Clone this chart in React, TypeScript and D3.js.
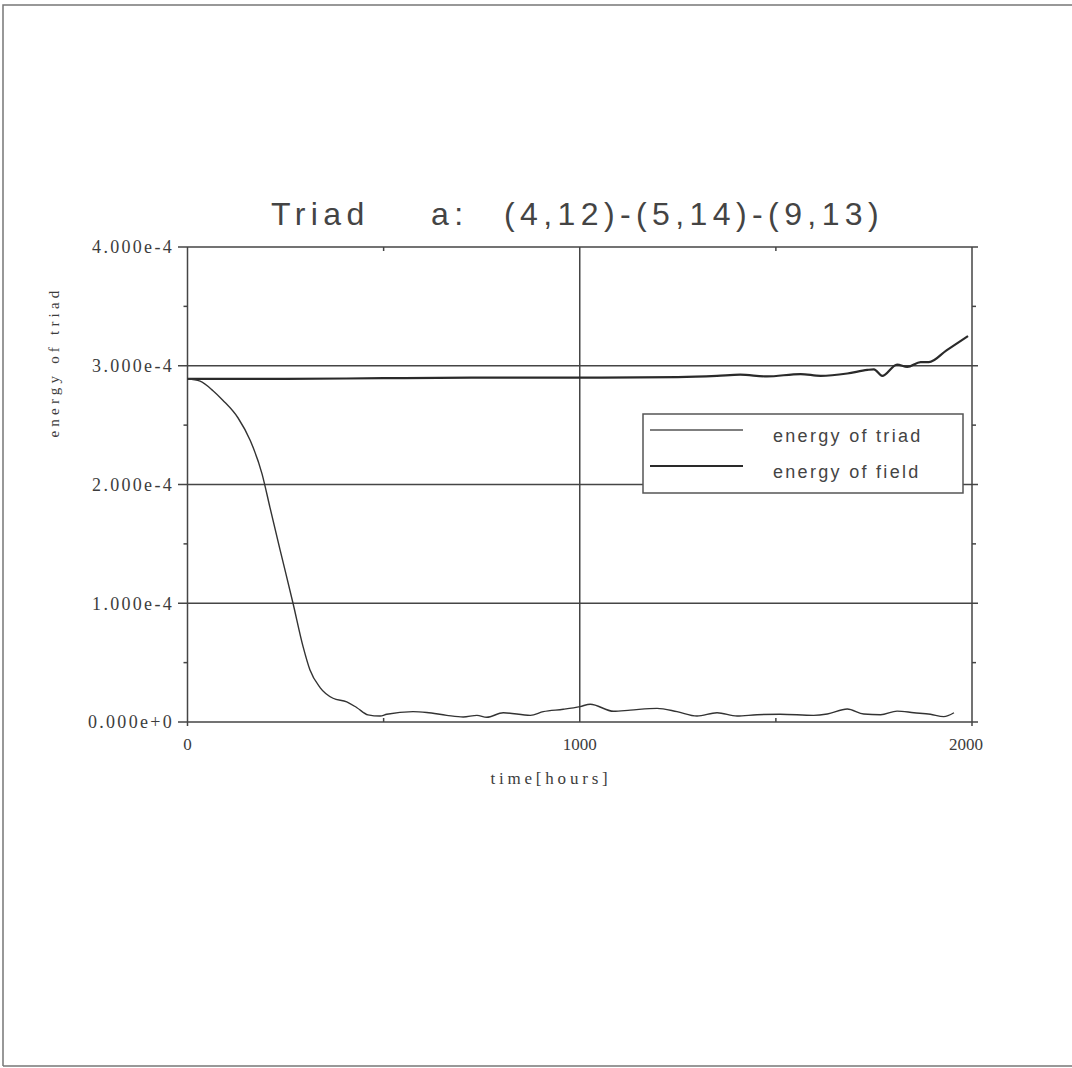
import React, { useEffect, useRef } from "react";
import * as d3 from "d3";

// energy of triad (time in hours, energy)
const triadTime = [0, 32, 65, 90, 129, 160, 190, 210, 236, 269, 295, 312, 338, 371, 406, 432, 460, 491, 508, 575, 610, 661, 703, 738, 763, 805, 874, 907, 958, 1001, 1027, 1086, 1129, 1197, 1248, 1299, 1350, 1401, 1452, 1511, 1596, 1631, 1682, 1724, 1767, 1809, 1852, 1894, 1928, 1954];
const triadEnergy = [2.89e-4, 2.87e-4, 2.79e-4, 2.71e-4, 2.56e-4, 2.37e-4, 2.09e-4, 1.81e-4, 1.45e-4, 1.0e-4, 0.63e-4, 0.44e-4, 0.29e-4, 0.2e-4, 0.17e-4, 0.12e-4, 0.06e-4, 0.05e-4, 0.065e-4, 0.087e-4, 0.08e-4, 0.056e-4, 0.042e-4, 0.056e-4, 0.04e-4, 0.078e-4, 0.056e-4, 0.087e-4, 0.107e-4, 0.13e-4, 0.15e-4, 0.09e-4, 0.1e-4, 0.115e-4, 0.087e-4, 0.05e-4, 0.078e-4, 0.05e-4, 0.061e-4, 0.065e-4, 0.056e-4, 0.067e-4, 0.109e-4, 0.067e-4, 0.061e-4, 0.092e-4, 0.078e-4, 0.065e-4, 0.045e-4, 0.078e-4];

// energy of field
const fieldTime = [0, 250, 500, 750, 1000, 1250, 1350, 1409, 1477, 1563, 1614, 1682, 1733, 1750, 1771, 1809, 1835, 1869, 1890, 1935, 1990];
const fieldEnergy = [2.89e-4, 2.89e-4, 2.895e-4, 2.9e-4, 2.9e-4, 2.905e-4, 2.915e-4, 2.925e-4, 2.91e-4, 2.93e-4, 2.915e-4, 2.935e-4, 2.965e-4, 2.97e-4, 2.915e-4, 3.01e-4, 2.99e-4, 3.03e-4, 3.03e-4, 3.13e-4, 3.25e-4];

const xTicks = [0, 1000, 2000];
const xMinor = [500, 1500];
const yTicks = [0, 1e-4, 2e-4, 3e-4, 4e-4];
const yMinor = [0.5e-4, 1.5e-4, 2.5e-4, 3.5e-4];
const legendLabels = ["energy of triad", "energy of field"];

const title = ["Triad", "a:", "(4,12)-(5,14)-(9,13)"];

export default function App() {
  const ref = useRef<SVGSVGElement>(null);

  useEffect(() => {
    const svg = d3.select(ref.current);
    svg.selectAll("*").remove();

    const ink = "#3c3c3c";
    const serif = "'Liberation Serif', 'DejaVu Serif', serif";
    const sans = "'Liberation Sans', Arial, sans-serif";

    const x = d3.scaleLinear().domain([0, 2000]).range([187.5, 972]);
    const y = d3.scaleLinear().domain([0, 4e-4]).range([722, 247]);

    // page frame
    svg.append("path")
      .attr("d", "M3,1066 L3,5 L1072,5 M3,1066 L1072,1066")
      .attr("fill", "none").attr("stroke", "#777").attr("stroke-width", 1.5);

    // title
    const titleX = [271, 431, 504];
    svg.append("g").selectAll("text").data(title).join("text")
      .attr("x", (_, i) => titleX[i]).attr("y", 225)
      .attr("font-family", sans).attr("font-size", 32)
      .attr("letter-spacing", 5.4).attr("fill", "#444")
      .text((d) => d);

    const grid = svg.append("g").attr("stroke", "#454545").attr("stroke-width", 1.5);

    // horizontal lines: axis ticks + grid
    grid.selectAll("line.h").data(yTicks).join("line")
      .attr("x1", 178).attr("x2", 978)
      .attr("y1", (d) => y(d)).attr("y2", (d) => y(d));

    // vertical frame / grid lines
    grid.selectAll("line.v").data(xTicks).join("line")
      .attr("x1", (d) => x(d)).attr("x2", (d) => x(d))
      .attr("y1", y(4e-4)).attr("y2", (d) => (d === 1000 ? y(0) : y(0) + 4));

    // minor ticks
    grid.selectAll("line.ml").data(yMinor).join("line")
      .attr("x1", x(0) - 4).attr("x2", x(0))
      .attr("y1", (d) => y(d)).attr("y2", (d) => y(d));
    grid.selectAll("line.mr").data(yMinor).join("line")
      .attr("x1", x(2000)).attr("x2", x(2000) + 4)
      .attr("y1", (d) => y(d)).attr("y2", (d) => y(d));
    grid.selectAll("line.mt").data(xMinor).join("line")
      .attr("x1", (d) => x(d)).attr("x2", (d) => x(d))
      .attr("y1", y(4e-4)).attr("y2", y(4e-4) + 4);
    grid.selectAll("line.mb").data(xMinor).join("line")
      .attr("x1", (d) => x(d)).attr("x2", (d) => x(d))
      .attr("y1", y(0) - 4).attr("y2", y(0));

    // tick labels
    const fmt = d3.format(".3e");
    svg.append("g").selectAll("text").data(yTicks).join("text")
      .attr("x", 174).attr("y", (d) => y(d)).attr("dy", "0.35em")
      .attr("text-anchor", "end").attr("font-family", serif)
      .attr("font-size", 18).attr("letter-spacing", 2.3).attr("fill", ink)
      .text((d) => fmt(d));

    svg.append("g").selectAll("text").data(xTicks).join("text")
      .attr("x", (d) => x(d) - (d === 2000 ? 6 : 0)).attr("y", 750)
      .attr("text-anchor", "middle").attr("font-family", serif)
      .attr("font-size", 17).attr("fill", ink)
      .text((d) => d);

    // axis titles
    svg.append("text")
      .attr("x", 551).attr("y", 784).attr("text-anchor", "middle")
      .attr("font-family", serif).attr("font-size", 17)
      .attr("letter-spacing", 3.8).attr("fill", ink)
      .text("time[hours]");

    svg.append("text")
      .attr("transform", "translate(59,362) rotate(-90)")
      .attr("text-anchor", "middle").attr("font-family", serif)
      .attr("font-size", 15).attr("letter-spacing", 4.2).attr("fill", ink)
      .text("energy of triad");

    // series
    const line = d3.line<[number, number]>()
      .x((d) => x(d[0]))
      .y((d) => y(d[1]))
      .curve(d3.curveMonotoneX);

    const field = fieldTime.map((t, i) => [t, fieldEnergy[i]] as [number, number]);
    const triad = triadTime.map((t, i) => [t, triadEnergy[i]] as [number, number]);

    svg.append("path").datum(field)
      .attr("fill", "none").attr("stroke", "#2a2a2a").attr("stroke-width", 2.2)
      .attr("d", line);
    svg.append("path").datum(triad)
      .attr("fill", "none").attr("stroke", "#333").attr("stroke-width", 1.4)
      .attr("d", line);

    // legend
    const lg = svg.append("g");
    lg.append("rect")
      .attr("x", 643).attr("y", 414).attr("width", 320).attr("height", 79)
      .attr("fill", "#fff").attr("stroke", "#555").attr("stroke-width", 1.5);
    const rowY = [430, 466];
    lg.selectAll("line").data(legendLabels).join("line")
      .attr("x1", 650).attr("x2", 743)
      .attr("y1", (_, i) => rowY[i]).attr("y2", (_, i) => rowY[i])
      .attr("stroke", (_, i) => (i === 0 ? "#555" : "#2a2a2a"))
      .attr("stroke-width", (_, i) => (i === 0 ? 1.4 : 2.2));
    lg.selectAll("text").data(legendLabels).join("text")
      .attr("x", 773).attr("y", (_, i) => rowY[i] + 12)
      .attr("font-family", sans).attr("font-size", 18)
      .attr("letter-spacing", 2.3).attr("fill", "#444")
      .text((d) => d);
  }, []);

  return (
    <svg
      ref={ref}
      width={1072}
      height={1068}
      style={{ position: "absolute", left: 0, top: 0, background: "#fff" }}
    />
  );
}
